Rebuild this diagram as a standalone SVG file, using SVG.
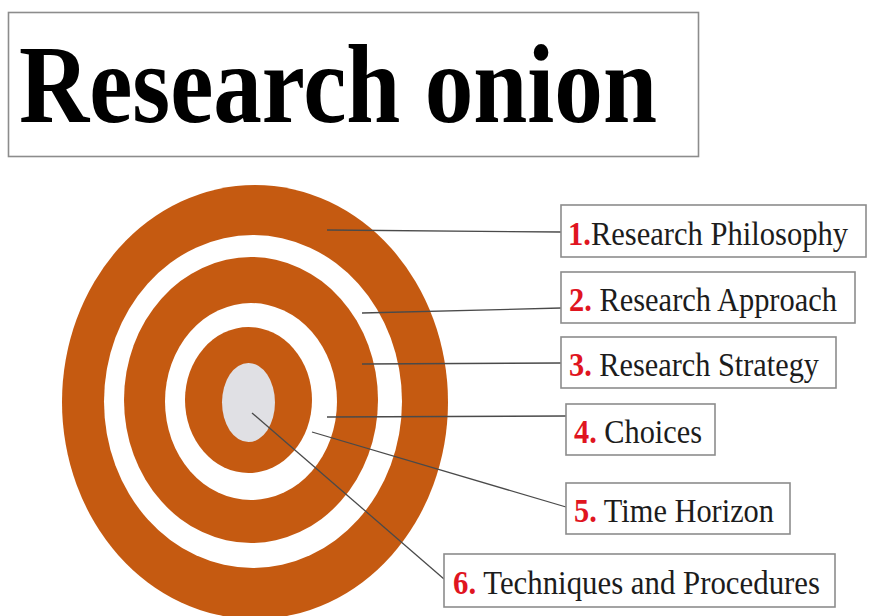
<svg xmlns="http://www.w3.org/2000/svg" width="872" height="616" viewBox="0 0 872 616">
  <style>
    .box { fill: #ffffff; stroke: #8c8c8c; stroke-width: 1.6; }
    .lbl { font-family: "Liberation Serif", "Times New Roman", serif; font-size: 33px; fill: #1c1c1c; }
    .num { font-weight: bold; fill: #e0151f; }
    .title { font-family: "Liberation Serif", "Times New Roman", serif; font-weight: bold; font-size: 112px; fill: #000000; }
    .ring { fill: #c55a11; }
    .gap { fill: #ffffff; }
    .lead { stroke: #4a4a4a; stroke-width: 1.3; fill: none; }
  </style>
  <rect width="872" height="616" fill="#ffffff"/>

  <g id="title">
    <rect class="box" x="8.5" y="12.5" width="690" height="144"/>
    <text class="title" x="19" y="122" textLength="638" lengthAdjust="spacingAndGlyphs">Research onion</text>
  </g>

  <g id="onion">
    <ellipse class="ring" cx="255" cy="402" rx="193" ry="217"/>
    <ellipse class="gap" cx="253" cy="401.5" rx="149" ry="166.5"/>
    <ellipse class="ring" cx="251" cy="400" rx="127" ry="143"/>
    <ellipse class="gap" cx="251" cy="401.5" rx="86" ry="98.5"/>
    <ellipse class="ring" cx="248.5" cy="400" rx="63.5" ry="73"/>
    <ellipse cx="248.5" cy="402.5" rx="26.5" ry="39.5" fill="#e0e0e4"/>
  </g>

  <g id="connectors">
    <line class="lead" x1="327" y1="230" x2="561" y2="232"/>
    <line class="lead" x1="362" y1="313" x2="561" y2="308"/>
    <line class="lead" x1="362" y1="364" x2="561" y2="363"/>
    <line class="lead" x1="327" y1="417" x2="566" y2="416"/>
    <line class="lead" x1="312" y1="432" x2="566" y2="507"/>
    <line class="lead" x1="252" y1="413" x2="444" y2="579"/>
  </g>

  <g id="label1">
    <rect class="box" x="561" y="205" width="305" height="52"/>
    <text class="lbl" x="568" y="245" textLength="280" lengthAdjust="spacingAndGlyphs"><tspan class="num">1.</tspan>Research Philosophy</text>
  </g>
  <g id="label2">
    <rect class="box" x="561" y="272" width="294" height="51"/>
    <text class="lbl" x="569" y="311" textLength="268" lengthAdjust="spacingAndGlyphs"><tspan class="num">2.</tspan> Research Approach</text>
  </g>
  <g id="label3">
    <rect class="box" x="561" y="337" width="275" height="51"/>
    <text class="lbl" x="569" y="376" textLength="250" lengthAdjust="spacingAndGlyphs"><tspan class="num">3.</tspan> Research Strategy</text>
  </g>
  <g id="label4">
    <rect class="box" x="566" y="404" width="149" height="51"/>
    <text class="lbl" x="574" y="443" textLength="128" lengthAdjust="spacingAndGlyphs"><tspan class="num">4.</tspan> Choices</text>
  </g>
  <g id="label5">
    <rect class="box" x="566" y="483" width="224" height="51"/>
    <text class="lbl" x="574" y="522" textLength="200" lengthAdjust="spacingAndGlyphs"><tspan class="num">5.</tspan> Time Horizon</text>
  </g>
  <g id="label6">
    <rect class="box" x="444" y="554" width="391" height="53"/>
    <text class="lbl" x="453" y="594" textLength="367" lengthAdjust="spacingAndGlyphs"><tspan class="num">6.</tspan> Techniques and Procedures</text>
  </g>
</svg>
